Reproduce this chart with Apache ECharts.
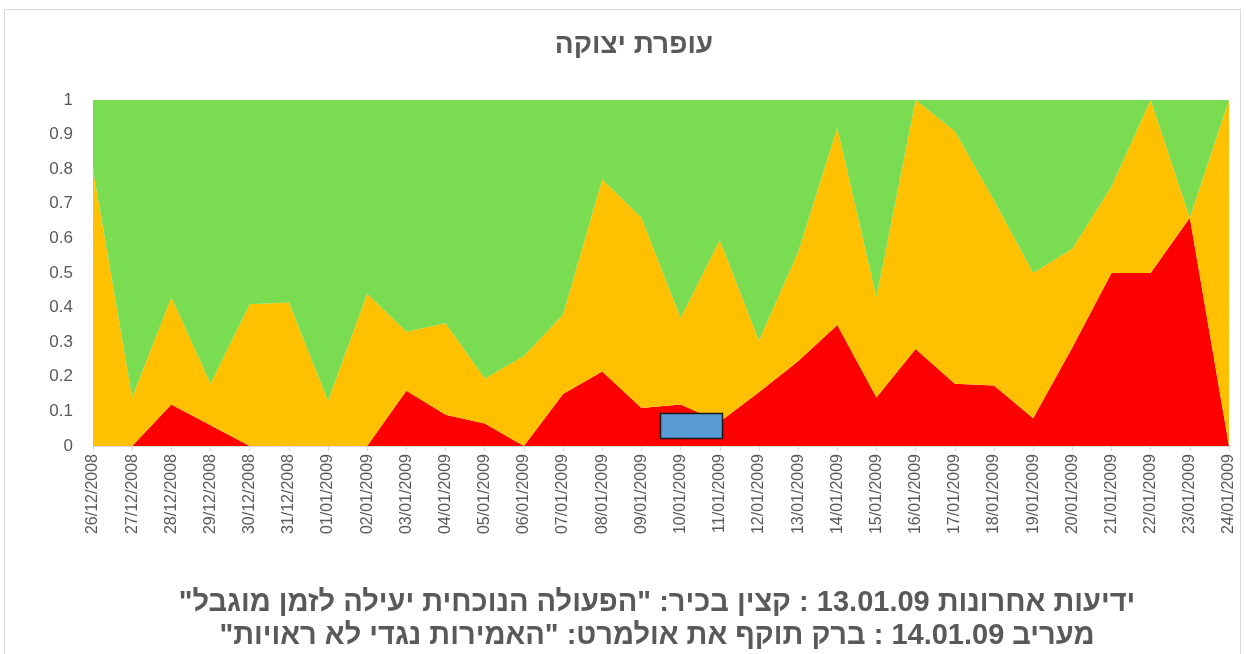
<!DOCTYPE html>
<html>
<head>
<meta charset="utf-8">
<script src="https://cdn.jsdelivr.net/npm/echarts@6/dist/echarts.min.js"></script>
<style>
html,body{margin:0;padding:0;background:#fff;}
#chart{width:1246px;height:654px;}
</style>
</head>
<body>
<div id="chart"></div>
<script>
const categories = ["26/12/2008","27/12/2008","28/12/2008","29/12/2008","30/12/2008","31/12/2008","01/01/2009","02/01/2009","03/01/2009","04/01/2009","05/01/2009","06/01/2009","07/01/2009","08/01/2009","09/01/2009","10/01/2009","11/01/2009","12/01/2009","13/01/2009","14/01/2009","15/01/2009","16/01/2009","17/01/2009","18/01/2009","19/01/2009","20/01/2009","21/01/2009","22/01/2009","23/01/2009","24/01/2009"];
const redValues    = [0, 0, 0.12, 0.06, 0, 0, 0, 0, 0.16, 0.09, 0.065, 0, 0.15, 0.215, 0.11, 0.12, 0.07, 0.155, 0.245, 0.35, 0.14, 0.28, 0.18, 0.175, 0.08, 0.285, 0.5, 0.5, 0.66, 0];
const orangeValues = [0.8, 0.14, 0.31, 0.12, 0.41, 0.415, 0.13, 0.44, 0.17, 0.265, 0.13, 0.26, 0.23, 0.555, 0.55, 0.25, 0.525, 0.15, 0.315, 0.57, 0.29, 0.72, 0.73, 0.535, 0.42, 0.285, 0.25, 0.5, 0, 1.0];
const greenValues  = [0.2, 0.86, 0.57, 0.82, 0.59, 0.585, 0.87, 0.56, 0.67, 0.645, 0.805, 0.74, 0.62, 0.23, 0.34, 0.63, 0.405, 0.695, 0.44, 0.08, 0.57, 0, 0.09, 0.29, 0.5, 0.43, 0.25, 0, 0.34, 0];
const yTicks = [0, 0.1, 0.2, 0.3, 0.4, 0.5, 0.6, 0.7, 0.8, 0.9, 1];
const titleText = "עופרת יצוקה";
const noteLine1 = "\u200Fידיעות אחרונות 13.01.09 : קצין בכיר: \"הפעולה הנוכחית יעילה לזמן מוגבל\"\u200F";
const noteLine2 = "\u200Fמעריב 14.01.09 : ברק תוקף את אולמרט: \"האמירות נגדי לא ראויות\"\u200F";

const chart = echarts.init(document.getElementById('chart'), null, {renderer:'canvas'});
const mk = (name, data, color) => ({
  name, type:'line', stack:'total', data, symbol:'none', silent:true,
  lineStyle:{width:0}, areaStyle:{color, opacity:1}, itemStyle:{color}
});
chart.setOption({
  animation:false,
  backgroundColor:'#fff',
  grid:{left:93, right:17, top:100, bottom:208, containLabel:false},
  xAxis:{
    type:'category', data:categories, boundaryGap:false,
    axisLine:{lineStyle:{color:'#d9d9d9'}},
    axisTick:{show:true, alignWithLabel:true, length:5, lineStyle:{color:'#d9d9d9'}},
    axisLabel:{rotate:90, interval:0, margin:8, fontFamily:'Liberation Sans', fontSize:16, color:'#595959'},
    splitLine:{show:false}
  },
  yAxis:{
    type:'value', min:0, max:1, interval:0.1,
    axisLine:{show:false}, axisTick:{show:false}, splitLine:{show:false},
    axisLabel:{margin:20, fontFamily:'Liberation Sans', fontSize:17, color:'#595959',
      formatter:v => { const t = yTicks.find(x => Math.abs(x - v) < 1e-6); return t === undefined ? '' : String(t); }}
  },
  series:[
    mk('red', redValues, '#ff0000'),
    mk('orange', orangeValues, '#ffc000'),
    mk('green', greenValues, '#7adc50')
  ],
  graphic:[
    {type:'rect', shape:{x:4.5, y:9.5, width:1236, height:700}, style:{fill:null, stroke:'#d9d9d9', lineWidth:1}, z:-1},
    {type:'rect', shape:{x:660.5, y:413.5, width:62, height:25}, style:{fill:'#5b9bd5', stroke:'#1a1a1a', lineWidth:1.5}, z:100},
    {type:'text', x:634, y:45, style:{text:titleText, fontFamily:'Liberation Sans', fontSize:28, fontWeight:'bold', fill:'#595959', align:'center', verticalAlign:'middle'}, z:100},
    {type:'text', x:657, y:603, style:{text:noteLine1, fontFamily:'Liberation Sans', fontSize:29, fontWeight:'bold', fill:'#595959', align:'center', verticalAlign:'middle'}, z:100},
    {type:'text', x:657, y:636, style:{text:noteLine2, fontFamily:'Liberation Sans', fontSize:29, fontWeight:'bold', fill:'#595959', align:'center', verticalAlign:'middle'}, z:100}
  ]
});
</script>
</body>
</html>
